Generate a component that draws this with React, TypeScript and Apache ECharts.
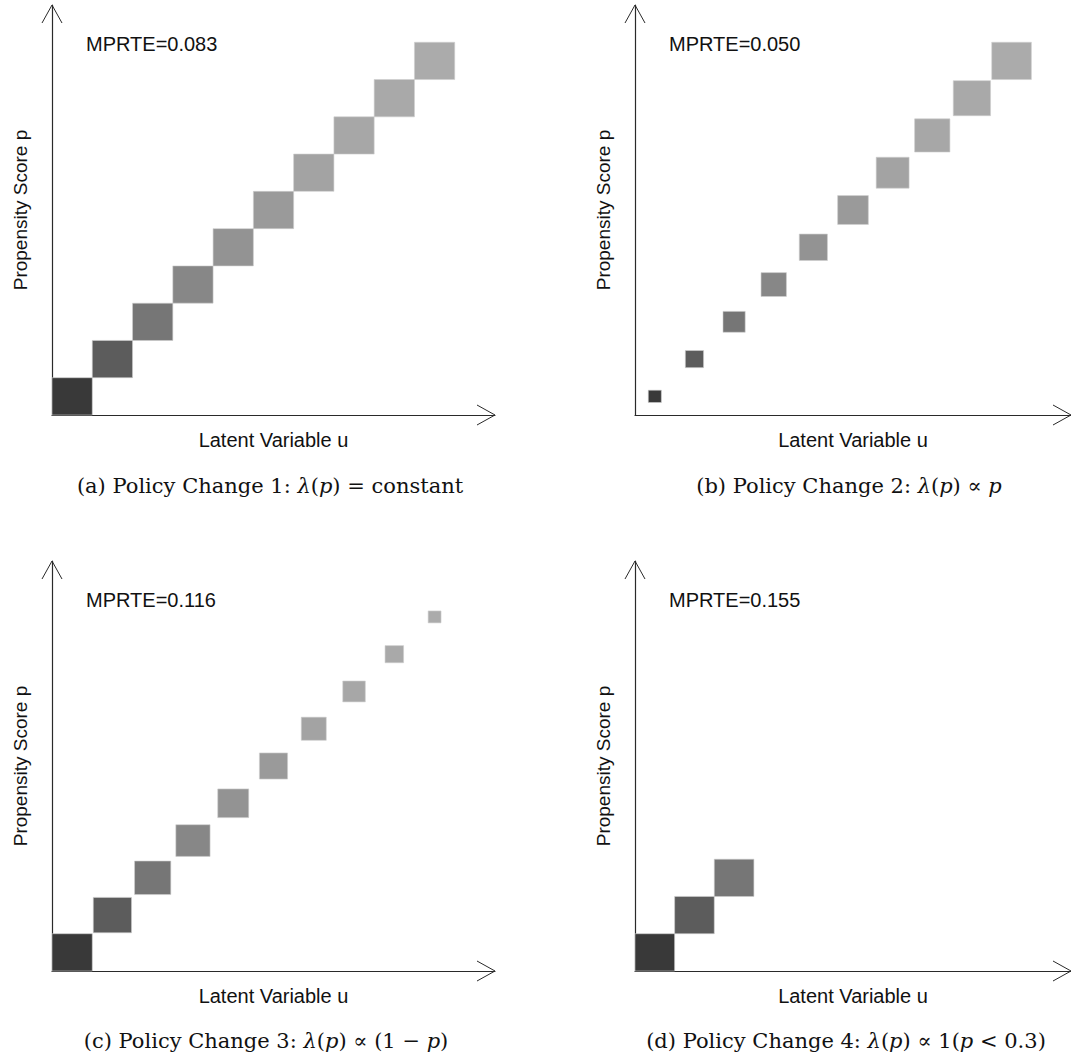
import React, { useEffect, useRef } from "react";
import * as echarts from "echarts";

// ---- data ----
const binCenters = [0.05, 0.15, 0.25, 0.35, 0.45, 0.55, 0.65, 0.75, 0.85, 0.95];
const binWidth = 0.1;
const binGrays = ["#393939", "#5c5c5c", "#767676", "#878787", "#939393", "#9a9a9a", "#a3a3a3", "#a7a7a7", "#a9a9a9", "#ababab"];
const scaleA = [1, 1, 1, 1, 1, 1, 1, 1, 1, 1];
const scaleB = [0.33, 0.46, 0.56, 0.64, 0.71, 0.775, 0.83, 0.89, 0.94, 1.0];
const scaleC = [1.0, 0.95, 0.9, 0.85, 0.77, 0.7, 0.62, 0.56, 0.46, 0.32];
const scaleD = [1, 1, 1, 0, 0, 0, 0, 0, 0, 0];
const mprte = ["0.083", "0.050", "0.116", "0.155"];
const captions = [
  "(a) Policy Change 1: {i|λ}({i|p}) = constant",
  "(b) Policy Change 2: {i|λ}({i|p}) ∝ {i|p}",
  "(c) Policy Change 3: {i|λ}({i|p}) ∝ (1 − {i|p})",
  "(d) Policy Change 4: {i|λ}({i|p}) ∝ 1({i|p} < 0.3)",
];
const xName = "Latent Variable u";
const yName = "Propensity Score p";
const axisMax = 1.1;

const panelScales = [scaleA, scaleB, scaleC, scaleD];
const panelLeft = [52, 635, 52, 635];
const panelTop = [5, 5, 561, 561];
const gridW = 443;
const gridH = 410;
const captionX = [270, 849, 266, 846];
const captionY = [486, 486, 1041, 1041];
const serif = '"DejaVu Serif", "Liberation Serif", serif';

export default function App() {
  const ref = useRef<HTMLDivElement>(null);
  useEffect(() => {
    if (!ref.current) return;
    const chart = echarts.init(ref.current, undefined, { renderer: "svg" });
    const axisColor = "#2a2a2a";
    const grids: any[] = [];
    const xAxes: any[] = [];
    const yAxes: any[] = [];
    const series: any[] = [];
    const graphics: any[] = [];

    for (let k = 0; k < 4; k++) {
      grids.push({ left: panelLeft[k], top: panelTop[k], width: gridW, height: gridH, containLabel: false });
      xAxes.push({
        type: "value", gridIndex: k, min: 0, max: axisMax,
        axisLine: { show: true, lineStyle: { color: axisColor, width: 1.2 } },
        axisTick: { show: false }, axisLabel: { show: false }, splitLine: { show: false },
        name: xName, nameLocation: "middle", nameGap: 15,
        nameTextStyle: { fontFamily: "Liberation Sans, Arial", fontSize: 20, color: "#111" },
      });
      yAxes.push({
        type: "value", gridIndex: k, min: 0, max: axisMax,
        axisLine: { show: true, lineStyle: { color: axisColor, width: 1.2 } },
        axisTick: { show: false }, axisLabel: { show: false }, splitLine: { show: false },
        name: yName, nameLocation: "middle", nameGap: 22,
        nameTextStyle: { fontFamily: "Liberation Sans, Arial", fontSize: 19, color: "#111" },
      });
      const sc = panelScales[k];
      const data = binCenters
        .map((c, i) => [c, c, sc[i], i])
        .filter((d) => d[2] > 0);
      series.push({
        type: "custom", xAxisIndex: k, yAxisIndex: k, data, clip: false,
        renderItem: (params: any, api: any) => {
          const c = api.value(0);
          const s = api.value(2);
          const idx = api.value(3);
          const p0 = api.coord([c - binWidth / 2, c - binWidth / 2]);
          const p1 = api.coord([c + binWidth / 2, c + binWidth / 2]);
          const w = (p1[0] - p0[0]) * s;
          const h = (p0[1] - p1[1]) * s;
          const cx = (p0[0] + p1[0]) / 2;
          const cy = (p0[1] + p1[1]) / 2;
          return {
            type: "rect",
            shape: { x: cx - w / 2, y: cy - h / 2, width: w, height: h },
            style: { fill: binGrays[idx], stroke: "#cfcfcf", lineWidth: 0.6 },
          };
        },
      });
      // arrow heads
      series.push({
        type: "custom", xAxisIndex: k, yAxisIndex: k, data: [[0, 0]], clip: false,
        renderItem: (params: any, api: any) => {
          const xt = api.coord([axisMax, 0]);
          const yt = api.coord([0, axisMax]);
          const L = 18, Hw = 10;
          return {
            type: "group",
            children: [
              { type: "polyline", shape: { points: [[xt[0] - L, xt[1] - Hw], [xt[0], xt[1]], [xt[0] - L, xt[1] + Hw]] }, style: { stroke: axisColor, fill: "none", lineWidth: 1 } },
              { type: "polyline", shape: { points: [[yt[0] - Hw, yt[1] + L], [yt[0], yt[1]], [yt[0] + Hw, yt[1] + L]] }, style: { stroke: axisColor, fill: "none", lineWidth: 1 } },
            ],
          };
        },
      });
      graphics.push({
        type: "text", left: panelLeft[k] + 34, top: panelTop[k] + 29,
        style: { text: "MPRTE=" + mprte[k], font: '20px "Liberation Sans", Arial', fill: "#111" },
      });
      graphics.push({
        type: "text", x: captionX[k], y: captionY[k],
        style: {
          text: captions[k],
          fontFamily: serif,
          fontSize: 21, fill: "#111", align: "center", verticalAlign: "middle",
          rich: { i: { fontStyle: "italic", fontFamily: serif, fontSize: 21, fill: "#111" } },
        },
      });
    }

    chart.setOption({
      animation: false,
      backgroundColor: "#ffffff",
      grid: grids,
      xAxis: xAxes,
      yAxis: yAxes,
      series,
      graphic: graphics,
    });
    return () => chart.dispose();
  }, []);
  return <div ref={ref} style={{ position: "absolute", left: 0, top: 0, width: 1071, height: 1059 }} />;
}
